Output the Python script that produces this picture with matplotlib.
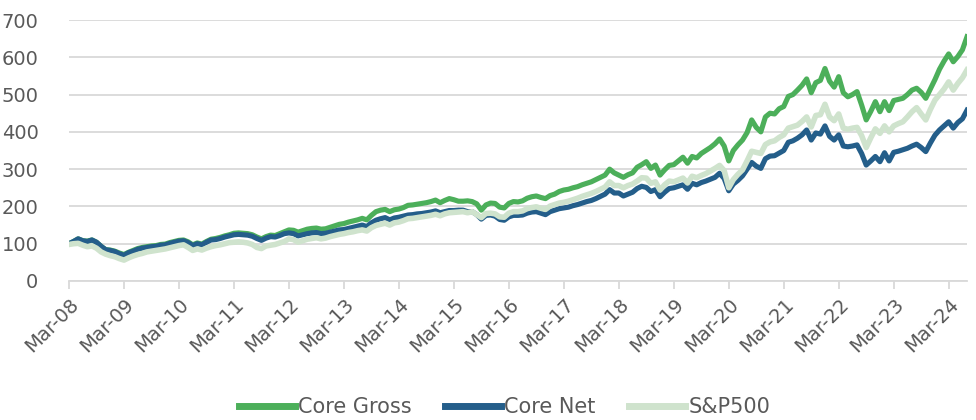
import numpy as np
import matplotlib.pyplot as plt
from matplotlib import font_manager

# monthly index values, Mar-08 .. Jul-24 (one row per Mar..Feb year)
core_gross = [
    100, 106, 113, 108, 107, 110, 104, 93, 84, 83, 80, 75,
    71, 77, 82, 87, 90, 92, 94, 95, 98, 99, 103, 106,
    109, 110, 105, 97, 102, 99, 106, 112, 114, 117, 121, 124,
    128, 129, 128, 127, 124, 118, 113, 119, 123, 122, 127, 132,
    137, 136, 131, 135, 139, 141, 142, 139, 140, 144, 148, 152,
    154, 158, 161, 164, 168, 164, 176, 186, 190, 192, 186, 191,
    193, 197, 203, 204, 206, 208, 210, 213, 217, 210, 216, 221,
    218, 214, 214, 215, 213, 207, 190, 204, 209, 208, 198, 196,
    208, 213, 212, 215, 222, 226, 228, 224, 221, 229, 233, 240,
    244, 246, 250, 253, 258, 262, 266, 272, 278, 284, 300, 290,
    284, 278, 285, 290, 305, 312, 320, 302, 311, 284, 298, 310,
    312, 322, 332, 316, 334, 330, 342, 350, 358, 368, 381, 362,
    322, 350, 365, 378, 398, 432, 412, 400, 440, 450, 448, 462,
    468, 495, 500, 512, 525, 542, 505, 532, 538, 570, 536, 520,
    548, 505, 494, 500, 508, 472, 432, 455, 481, 454, 481, 457,
    484, 487, 490, 500, 512, 517, 506, 490, 515, 540, 568, 590,
    609, 588, 602, 620, 655,
]

core_net = [
    100, 106, 113, 108, 106, 110, 104, 93, 84, 82, 79, 73,
    69, 76, 80, 85, 88, 90, 92, 93, 96, 97, 101, 104,
    107, 108, 103, 95, 100, 97, 104, 110, 111, 114, 118, 121,
    124, 125, 124, 123, 120, 114, 109, 115, 119, 118, 122, 127,
    129, 127, 121, 124, 127, 129, 130, 127, 128, 131, 134, 137,
    138, 141, 144, 147, 150, 146, 156, 163, 167, 170, 164, 169,
    171, 174, 177, 178, 180, 181, 183, 185, 188, 183, 186, 189,
    189, 190, 190, 186, 186, 178, 166, 176, 177, 174, 165, 163,
    172, 176, 176, 177, 182, 185, 186, 182, 178, 186, 190, 194,
    196, 198, 202, 205, 209, 213, 216, 221, 227, 233, 245, 236,
    236, 228, 233, 238, 248, 254, 251, 240, 245, 226, 238, 248,
    250, 254, 258, 246, 262, 258, 264, 268, 273, 278, 289, 275,
    242, 260, 270, 282, 300, 318, 308, 302, 328, 335, 336, 343,
    350, 372, 376, 383, 392, 405, 378, 397, 394, 416, 388, 378,
    392, 362, 360, 362, 365, 342, 311, 322, 334, 320, 344, 322,
    345, 348, 352, 356, 362, 367, 358, 347, 370, 391, 405, 416,
    427, 410, 425, 435, 458,
]

sp500 = [
    98, 100, 101, 96, 92, 94, 88, 78, 72, 68, 65, 60,
    56, 62, 67, 71, 74, 78, 80, 82, 84, 86, 89, 92,
    95, 97, 90, 82, 86, 83, 88, 92, 95, 97, 100, 103,
    104, 105, 104, 102, 98, 90, 87, 94, 96, 98, 102, 106,
    113, 111, 104, 108, 112, 114, 116, 113, 115, 119, 122, 125,
    127, 130, 132, 135, 137, 134, 143, 149, 152, 155, 150, 156,
    158, 162, 167, 168, 170, 172, 174, 176, 179, 175, 180, 183,
    184, 185, 186, 183, 186, 178, 170, 181, 182, 180, 172, 171,
    182, 186, 186, 188, 194, 197, 199, 195, 192, 201, 205, 209,
    211, 214, 218, 222, 227, 231, 235, 240, 246, 252, 266, 256,
    256, 250, 256, 260, 268, 277, 276, 262, 266, 244, 258, 268,
    266, 271, 276, 263, 281, 277, 283, 288, 295, 302, 310, 296,
    250, 272, 286, 298, 322, 348, 345, 342, 366, 373, 376, 385,
    392, 410, 414, 418, 428, 440, 413, 444, 446, 474, 440, 430,
    448, 410, 407, 410, 412, 390, 358, 384, 408, 396, 416, 400,
    416, 422, 427, 440, 454, 465, 448, 432, 460, 485, 500, 515,
    534, 512, 530, 545, 566,
]

tick_labels = ["Mar-%02d" % y for y in range(8, 25)]
y_ticks = [0, 100, 200, 300, 400, 500, 600, 700]

grey_text = "#595959"
grid_col = "#d9d9d9"

# condensed font for the legend if there is one
names = {f.name for f in font_manager.fontManager.ttflist}
legend_font = "Liberation Sans Narrow" if "Liberation Sans Narrow" in names else "DejaVu Sans"
legend_size = 16.5 if legend_font != "DejaVu Sans" else 15

plt.rcParams["font.family"] = ["DejaVu Sans"]

fig = plt.figure(figsize=(9.76, 4.2), dpi=100)
ax = fig.add_axes([69 / 976, 1 - 281 / 420, (967 - 69) / 976, (281 - 20) / 420])

x = np.arange(len(core_gross))
ax.plot(x, core_gross, color="#4caf5a", lw=3.7, label="Core Gross", zorder=3,
        solid_joinstyle="round")
ax.plot(x, core_net, color="#245e8a", lw=3.7, label="Core Net", zorder=4,
        solid_joinstyle="round")
ax.plot(x, sp500, color="#cfe3cd", lw=4.0, label="S&P500", zorder=5,
        solid_joinstyle="round")

ax.set_xlim(0, len(core_gross) - 1)
ax.set_ylim(0, 700)
ax.set_yticks(y_ticks)
ax.set_xticks(np.arange(0, 12 * len(tick_labels), 12))
ax.set_xticklabels(tick_labels, rotation=45, ha="right", va="top",
                   rotation_mode="anchor")

ax.grid(axis="y", color=grid_col, lw=1.3, zorder=0)
for s in ["top", "right", "left"]:
    ax.spines[s].set_visible(False)
ax.spines["bottom"].set_color(grid_col)
ax.spines["bottom"].set_linewidth(1.3)
ax.tick_params(axis="y", length=0, pad=22, labelsize=14, labelcolor=grey_text)
ax.tick_params(axis="x", length=6, width=1.3, color=grid_col, pad=4,
               labelsize=14, labelcolor=grey_text)

leg = fig.legend(loc="center", bbox_to_anchor=(0.517, 1 - 407 / 420), ncol=3,
                 frameon=False, handlelength=2.7, handletextpad=0.15,
                 columnspacing=1.6, prop={"family": legend_font, "size": legend_size})
for line in leg.get_lines():
    line.set_linewidth(5)
for t in leg.get_texts():
    t.set_color(grey_text)

fig.savefig("out.png", dpi=100)
